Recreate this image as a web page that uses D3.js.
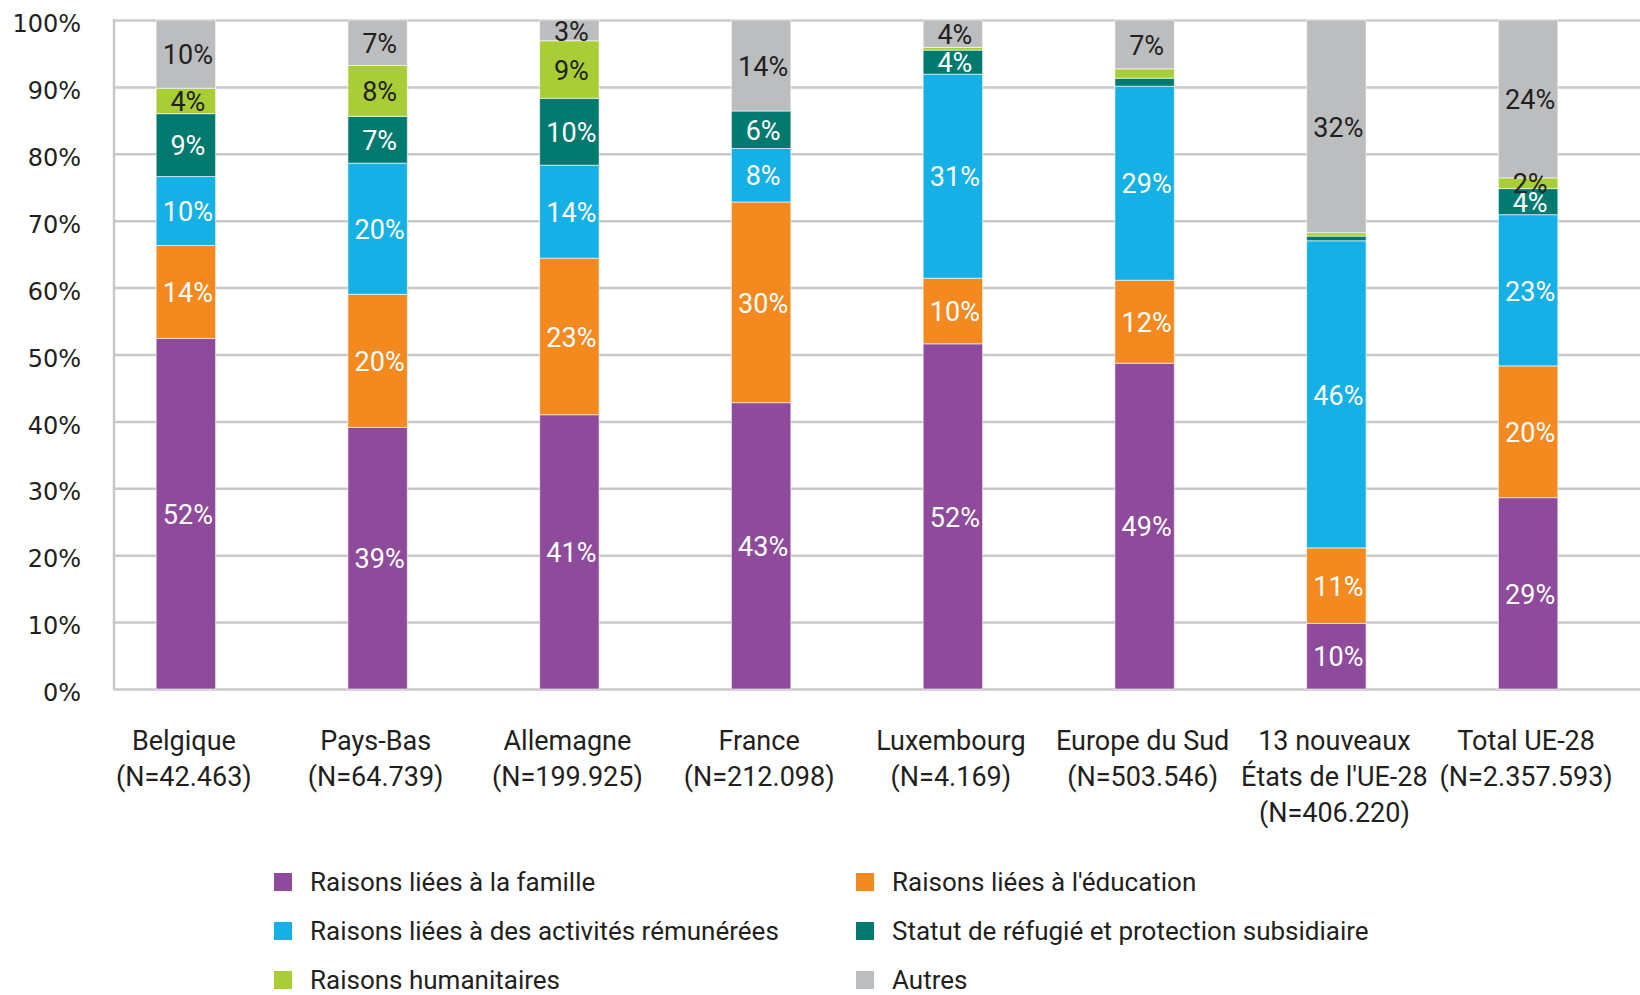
<!DOCTYPE html>
<meta charset="utf-8">
<script src="https://d3js.org/d3.v7.min.js"></script>
<style>
    body { margin: 0; background: #fff; }
    text { font-family: Roboto, "Open Sans", sans-serif; fill: #231f20; }
    .tick text { font-family: "DejaVu Sans", sans-serif; }
</style>
<body>
<div id="my_dataviz"></div>
<script>
    // categories (one line per row of the label)
    var catLine1 = ["Belgique", "Pays-Bas", "Allemagne", "France", "Luxembourg", "Europe du Sud", "13 nouveaux", "Total UE-28"]
    var catLine2 = ["(N=42.463)", "(N=64.739)", "(N=199.925)", "(N=212.098)", "(N=4.169)", "(N=503.546)", "États de l'UE-28", "(N=2.357.593)"]
    var catLine3 = ["", "", "", "", "", "", "(N=406.220)", ""]

    // series, in % of each bar
    var famille      = [52.4, 39.1, 41.0, 42.8, 51.6, 48.7,  9.8, 28.6]
    var education    = [13.9, 19.9, 23.4, 30.0,  9.8, 12.4, 11.3, 19.7]
    var remunerees   = [10.3, 19.6, 13.9,  8.0, 30.5, 29.0, 45.9, 22.6]
    var refugie      = [ 9.4,  7.0, 10.0,  5.6,  3.6,  1.2,  0.7,  3.9]
    var humanitaires = [ 3.8,  7.6,  8.6,  0.0,  0.4,  1.4,  0.5,  1.6]
    var autres       = [10.2,  6.8,  3.1, 13.6,  4.1,  7.3, 31.8, 23.6]

    var seriesNames = ["Raisons liées à la famille", "Raisons liées à l'éducation",
        "Raisons liées à des activités rémunérées", "Statut de réfugié et protection subsidiaire",
        "Raisons humanitaires", "Autres"]
    var seriesKeys = ["famille", "education", "remunerees", "refugie", "humanitaires", "autres"]
    var seriesColors = ["#8e4b9b", "#f3891f", "#15b1e6", "#00796f", "#a8cd37", "#bcbdbf"]
    var labelColors = ["#fff", "#fff", "#fff", "#fff", "#231f20", "#231f20"]

    var yTicks = [0, 10, 20, 30, 40, 50, 60, 70, 80, 90, 100]

    // build table for the stack
    var table = catLine1.map(function(c, i) {
        return {cat: c, famille: famille[i], education: education[i], remunerees: remunerees[i],
                refugie: refugie[i], humanitaires: humanitaires[i], autres: autres[i]}
    })

    var W = 1640, H = 995
    var plotLeft = 114, plotRight = 1640, plotTop = 20, plotBottom = 689

    var svg = d3.select("#my_dataviz")
        .append("svg")
        .attr("width", W)
        .attr("height", H)

    var x = d3.scaleBand()
        .domain(catLine1)
        .range([90, 1624])
        .paddingInner(0.69)
        .paddingOuter(0.345)

    var y = d3.scaleLinear()
        .domain([0, 100])
        .range([plotBottom, plotTop])

    // gridlines
    var grid = svg.append("g")
        .attr("transform", "translate(" + plotLeft + ",0)")
        .call(d3.axisLeft(y).tickValues(yTicks).tickSize(-(plotRight - plotLeft)).tickFormat(""))
    grid.select(".domain").remove()
    grid.selectAll("line").attr("stroke", "#c8c8c8").attr("stroke-width", 2.5)

    // left axis line
    svg.append("line")
        .attr("x1", plotLeft).attr("x2", plotLeft)
        .attr("y1", y(100) - 1).attr("y2", y(0) + 1)
        .attr("stroke", "#c8c8c8")
        .attr("stroke-width", 2.5)

    // y tick labels
    var yAxis = svg.append("g")
        .attr("transform", "translate(81,4)")
        .call(d3.axisLeft(y).tickValues(yTicks).tickSize(0).tickPadding(0)
            .tickFormat(function(d) { return d + "%" }))
    yAxis.select(".domain").remove()
    yAxis.selectAll("text").style("font-size", "24px").attr("fill", "#231f20")

    // stacked bars
    var stacked = d3.stack().keys(seriesKeys)(table)

    var layers = svg.selectAll("g.layer")
        .data(stacked)
        .enter()
        .append("g")
        .attr("class", "layer")
        .attr("fill", function(d, i) { return seriesColors[i] })

    layers.selectAll("rect")
        .data(function(d) { return d })
        .enter()
        .append("rect")
        .attr("x", function(d) { return x(d.data.cat) })
        .attr("y", function(d) { return y(d[1]) })
        .attr("width", x.bandwidth())
        .attr("height", function(d) { return y(d[0]) - y(d[1]) })
        .attr("stroke", "rgba(255,255,255,0.6)")
        .attr("stroke-width", 1)

    // value labels
    stacked.forEach(function(layer, i) {
        svg.append("g")
            .selectAll("text")
            .data(layer.filter(function(d) { return d[1] - d[0] >= 1.5 }))
            .enter()
            .append("text")
            .attr("x", function(d) { return x(d.data.cat) + x.bandwidth() / 2 + 2 })
            .attr("y", function(d) { return y((d[0] + d[1]) / 2) })
            .attr("dy", "0.38em")
            .attr("text-anchor", "middle")
            .style("font-size", "27px")
            .style("fill", labelColors[i])
            .text(function(d) { return Math.round(d[1] - d[0]) + "%" })
    })

    // x labels
    var xl = svg.append("g")
        .selectAll("text")
        .data(catLine1)
        .enter()
        .append("text")
        .attr("text-anchor", "middle")
        .style("font-size", "27px")
    xl.each(function(d, i) {
        var t = d3.select(this)
        ;[catLine1[i], catLine2[i], catLine3[i]].forEach(function(s, k) {
            if (!s) return
            t.append("tspan")
                .attr("x", x(d) + x.bandwidth() / 2 - 2)
                .attr("y", 750 + k * 36)
                .text(s)
        })
    })

    // legend
    var legend = svg.append("g")
        .selectAll("g")
        .data(seriesNames)
        .enter()
        .append("g")
        .attr("transform", function(d, i) {
            return "translate(" + (274 + (i % 2) * 582) + "," + (882 + Math.floor(i / 2) * 49) + ")"
        })
    legend.append("rect")
        .attr("x", 0).attr("y", -9)
        .attr("width", 18).attr("height", 18)
        .attr("fill", function(d, i) { return seriesColors[i] })
    legend.append("text")
        .attr("x", 36)
        .attr("dy", "0.36em")
        .style("font-size", "26px")
        .text(function(d) { return d })
</script>
</body>
